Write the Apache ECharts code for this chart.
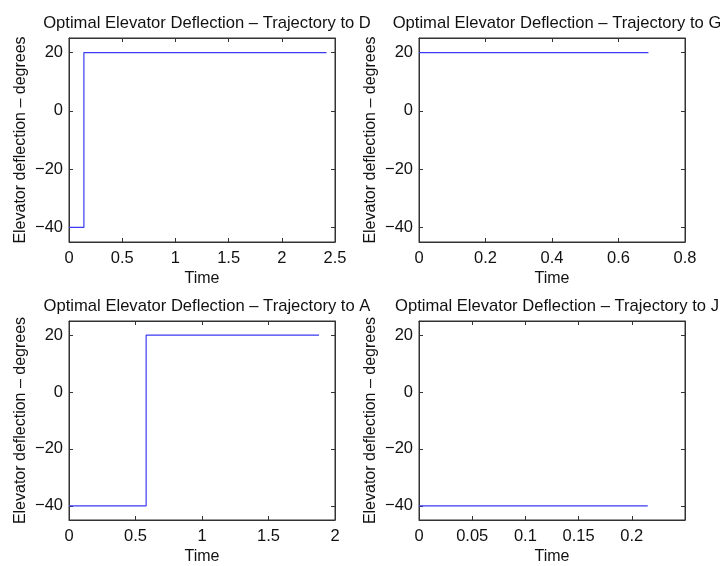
<!DOCTYPE html>
<html lang="en">
<head>
    <meta charset="UTF-8">
    <title>Optimal Elevator Deflection</title>
    <script src="https://cdn.jsdelivr.net/npm/echarts@6/dist/echarts.min.js"></script>
</head>
<body style="margin:0;background:#fff;">
<div id="container" style="width:720px;height:566px;"></div>
<script>
    // trajectory names and step data (time, elevator deflection in degrees)
    var targets = ['D', 'G', 'A', 'J'];
    var timeD = [0, 0.14, 0.14, 2.42];
    var defD = [-40, -40, 20, 20];
    var timeG = [0, 0.69];
    var defG = [20, 20];
    var timeA = [0, 0.58, 0.58, 1.88];
    var defA = [-40, -40, 20, 20];
    var timeJ = [0, 0.215];
    var defJ = [-40, -40];

    // axis ranges and tick labels
    var yRange = [-45, 25];
    var yTicks = [-40, -20, 0, 20];
    var xMax = [2.5, 0.8, 2, 0.25];
    var xTicks = [
        [0, 0.5, 1, 1.5, 2, 2.5],
        [0, 0.2, 0.4, 0.6, 0.8],
        [0, 0.5, 1, 1.5, 2],
        [0, 0.05, 0.1, 0.15, 0.2]
    ];

    var times = [timeD, timeG, timeA, timeJ];
    var defs = [defD, defG, defA, defJ];

    var font = '"Liberation Sans", Arial, Helvetica, sans-serif';
    var frame = '#333';
    var grids = [
        {left: 69, top: 38, width: 266, height: 204},
        {left: 419, top: 38, width: 266, height: 204},
        {left: 69, top: 321, width: 266, height: 204},
        {left: 419, top: 321, width: 266, height: 204}
    ];

    function fmt(v) {
        return String(v).replace('-', '\u2212');
    }

    var option = {
        backgroundColor: '#fff',
        animation: false,
        title: [], grid: [], xAxis: [], yAxis: [], series: []
    };

    grids.forEach(function (g, i) {
        option.grid.push({
            left: g.left, top: g.top, width: g.width, height: g.height,
            show: true, borderColor: frame, borderWidth: 1, backgroundColor: '#fff'
        });
        option.title.push({
            text: 'Optimal Elevator Deflection \u2013 Trajectory to ' + targets[i],
            left: g.left + g.width / 2,
            top: g.top - 28,
            textAlign: 'center',
            textStyle: {fontFamily: font, fontSize: 16.6, fontWeight: 'normal', color: '#111'}
        });
        // bottom x axis
        option.xAxis.push({
            type: 'value', gridIndex: i, min: 0, max: xMax[i],
            name: 'Time', nameLocation: 'middle', nameGap: 29,
            nameTextStyle: {fontFamily: font, fontSize: 16, color: '#111'},
            axisLine: {show: true, onZero: false, lineStyle: {color: frame}},
            axisTick: {show: true, inside: true, length: 4, customValues: xTicks[i], lineStyle: {color: frame}},
            axisLabel: {customValues: xTicks[i], fontFamily: font, fontSize: 16.5, color: '#111', margin: 8, formatter: fmt},
            splitLine: {show: false}
        });
        // top x axis (ticks only)
        option.xAxis.push({
            type: 'value', gridIndex: i, min: 0, max: xMax[i], position: 'top',
            axisLine: {show: true, onZero: false, lineStyle: {color: frame}},
            axisTick: {show: true, inside: true, length: 4, customValues: xTicks[i], lineStyle: {color: frame}},
            axisLabel: {show: false},
            splitLine: {show: false}
        });
        // left y axis
        option.yAxis.push({
            type: 'value', gridIndex: i, min: yRange[0], max: yRange[1],
            name: 'Elevator deflection \u2013 degrees', nameLocation: 'middle', nameGap: 40,
            nameTextStyle: {fontFamily: font, fontSize: 16, color: '#111'},
            axisLine: {show: true, onZero: false, lineStyle: {color: frame}},
            axisTick: {show: true, inside: true, length: 4, customValues: yTicks, lineStyle: {color: frame}},
            axisLabel: {customValues: yTicks, fontFamily: font, fontSize: 16.5, color: '#111', margin: 6, formatter: fmt},
            splitLine: {show: false}
        });
        // right y axis (ticks only)
        option.yAxis.push({
            type: 'value', gridIndex: i, min: yRange[0], max: yRange[1], position: 'right',
            axisLine: {show: true, onZero: false, lineStyle: {color: frame}},
            axisTick: {show: true, inside: true, length: 4, customValues: yTicks, lineStyle: {color: frame}},
            axisLabel: {show: false},
            splitLine: {show: false}
        });

        var pts = times[i].map(function (t, k) {
            return [t, defs[i][k]];
        });
        option.series.push({
            type: 'line',
            xAxisIndex: i * 2,
            yAxisIndex: i * 2,
            data: pts,
            symbol: 'none',
            lineStyle: {color: '#3a3af2', width: 1.2}
        });
    });

    var myChart = echarts.init(document.getElementById('container'));
    myChart.setOption(option);
</script>
</body>
</html>
